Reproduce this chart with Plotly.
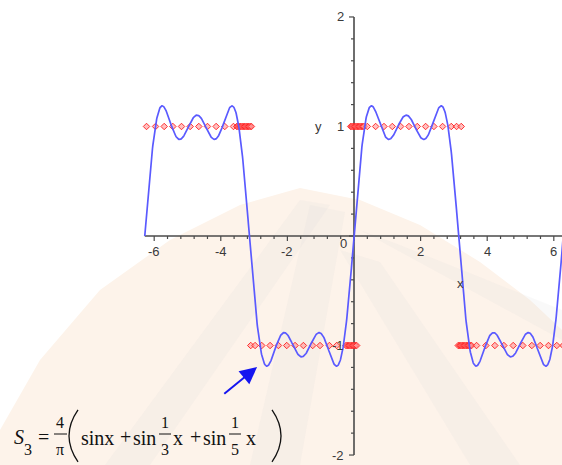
import numpy as np
import plotly.graph_objects as go

W, H = 562, 465

# S3: partial Fourier sum of the square wave
harmonics = [1, 3, 5]
weights = [1, 1 / 3, 1 / 5]
scale = 4 / np.pi

# square wave drawn as sampled points, at level +1 and level -1
upper_x = [-6.23, -5.96, -5.70, -5.44, -5.18, -4.92, -4.66, -4.40, -4.14, -3.88, -3.62,
           -3.52, -3.48, -3.44, -3.40, -3.36, -3.32, -3.28, -3.24, -3.20, -3.16, -3.12, -3.08,
           -0.10, -0.06, -0.02, 0.02, 0.06, 0.10, 0.14, 0.18, 0.22, 0.26, 0.30,
           0.40, 0.65, 0.90, 1.15, 1.40, 1.65, 1.90, 2.15, 2.40, 2.66, 2.92, 3.08, 3.22]
lower_x = [-3.10, -2.97, -2.77, -2.52, -2.27, -2.02, -1.77, -1.52, -1.24, -1.02, -0.74, -0.52,
           -0.24, -0.20, -0.16, -0.12, -0.08, -0.04, 0.00, 0.04, 0.08,
           3.13, 3.17, 3.21, 3.25, 3.29, 3.33, 3.37, 3.41, 3.45, 3.49, 3.53,
           3.68, 3.96, 4.23, 4.50, 4.78, 5.07, 5.34, 5.59, 5.84, 6.09, 6.28]
upper_level = 1
lower_level = -1

# axis tick labels
x_tick_vals = [-6, -4, -2, 2, 4, 6]
x_tick_text = ["-6", "-4", "-2", "2", "4", "6"]
y_tick_vals = [2, 1, -1, -2]
y_tick_text = ["2", "1", "-1", "-2"]

x_lo, x_hi = -2 * np.pi, 2 * np.pi
y_lo, y_hi = -2, 2

# visible window (origin sits at pixel 354, 236)
x_range = [-10.63, 6.246]
y_range = [-2.091, 2.155]
px_per_x = W / (x_range[1] - x_range[0])
px_per_y = H / (y_range[1] - y_range[0])

xs = np.linspace(x_lo, x_hi, 1200)
ys = scale * sum(w * np.sin(n * xs) for n, w in zip(harmonics, weights))

AXIS = "#4a4a4a"
fig = go.Figure()


def paper(px, py):
    return px / W, 1 - py / H


def path_from_pixels(pts, close=True):
    s = ""
    for i, (px, py) in enumerate(pts):
        xx, yy = paper(px, py)
        s += ("M" if i == 0 else "L") + f"{xx:.4f},{yy:.4f} "
    return s + ("Z" if close else "")


# faint watermark in the background
dome = [(300, 188), (360, 200), (420, 225), (480, 262), (530, 300), (562, 330), (562, 465),
        (0, 465), (0, 430), (40, 360), (100, 290), (170, 240), (240, 205)]
fig.add_shape(type="path", xref="paper", yref="paper", path=path_from_pixels(dome),
              fillcolor="#fdf3ea", line=dict(width=0), layer="below")
bands = [
    [(300, 200), (330, 205), (150, 465), (105, 465)],
    [(310, 205), (345, 212), (300, 465), (250, 465)],
    [(360, 230), (400, 245), (562, 310), (562, 340)],
    [(340, 250), (380, 262), (520, 465), (470, 465)],
]
for b in bands:
    fig.add_shape(type="path", xref="paper", yref="paper", path=path_from_pixels(b),
                  fillcolor="rgba(215,215,215,0.16)", line=dict(width=0), layer="below")

# axes lines
fig.add_trace(go.Scatter(x=[x_lo, x_range[1]], y=[0, 0], mode="lines",
                         line=dict(color=AXIS, width=1.6), hoverinfo="skip"))
fig.add_trace(go.Scatter(x=[0, 0], y=[y_lo, y_hi], mode="lines",
                         line=dict(color=AXIS, width=1.6), hoverinfo="skip"))

# tick marks
tx, ty = [], []
for i in range(-15, 16):
    v = i * 0.4
    ln = 5 if i % 5 == 0 else 3
    tx += [v, v, None]
    ty += [0, -ln / px_per_y, None]
for i in range(-10, 11):
    v = i * 0.2
    ln = 5 if i % 5 == 0 else 3
    tx += [0, -ln / px_per_x, None]
    ty += [v, v, None]
fig.add_trace(go.Scatter(x=tx, y=ty, mode="lines", line=dict(color=AXIS, width=1.2),
                         hoverinfo="skip"))

# square wave samples
marker = dict(symbol="diamond", size=5, color="rgba(255,150,150,0.6)",
              line=dict(color="rgba(255,20,20,0.85)", width=1))
fig.add_trace(go.Scatter(x=upper_x, y=[upper_level] * len(upper_x), mode="markers",
                         marker=marker, hoverinfo="skip"))
fig.add_trace(go.Scatter(x=lower_x, y=[lower_level] * len(lower_x), mode="markers",
                         marker=marker, hoverinfo="skip"))

# Fourier partial sum
fig.add_trace(go.Scatter(x=xs, y=ys, mode="lines", line=dict(color="#5a5aff", width=1.7),
                         hoverinfo="skip"))

annotations = []
tick_font = dict(family="Liberation Sans, Arial, sans-serif", size=13, color="#3a3a3a")
for v, t in zip(x_tick_vals, x_tick_text):
    annotations.append(dict(x=v, y=-15 / px_per_y, text=t, showarrow=False,
                            font=tick_font, xanchor="center", yanchor="middle"))
annotations.append(dict(x=-11 / px_per_x, y=-7 / px_per_y, text="0", showarrow=False,
                        font=tick_font, xanchor="center", yanchor="middle"))
for v, t in zip(y_tick_vals, y_tick_text):
    annotations.append(dict(x=-8 / px_per_x, y=v, text=t, showarrow=False,
                            font=tick_font, xanchor="right", yanchor="middle"))
annotations.append(dict(x=-36 / px_per_x, y=1, text="y", showarrow=False,
                        font=tick_font, xanchor="center", yanchor="middle"))
annotations.append(dict(x=3.2, y=-47 / px_per_y, text="x", showarrow=False,
                        font=tick_font, xanchor="center", yanchor="middle"))

# arrow pointing at the curve
annotations.append(dict(x=-2.91, y=-1.196, ax=-3.94, ay=-1.452, axref="x", ayref="y",
                        showarrow=True, arrowhead=2, arrowsize=1.7, arrowwidth=2,
                        arrowcolor="#1515f0", text=""))

# formula  S3 = 4/pi ( sinx + sin 1/3 x + sin 1/5 x )
serif = "Liberation Serif, Times New Roman, serif"


def txt(s, px, py, size=20, italic=False, family=serif):
    xx, yy = paper(px, py)
    body = f"<i>{s}</i>" if italic else s
    annotations.append(dict(x=xx, y=yy, xref="paper", yref="paper", text=body,
                            showarrow=False, xanchor="center", yanchor="middle",
                            font=dict(family=family, size=size, color="#111111")))


txt("S", 19, 437, size=20, italic=True)
txt("3", 28, 449, size=16)
txt("=", 43, 437)
txt("4", 60, 422, size=16)
txt("π", 60, 449, size=16)
txt("sinx", 97, 438)
txt("+", 125, 437)
txt("sin", 144, 438)
txt("1", 165, 422, size=16)
txt("3", 165, 449, size=16)
txt("x", 178, 438)
txt("+", 195, 437)
txt("sin", 214, 438)
txt("1", 235, 422, size=16)
txt("5", 235, 449, size=16)
txt("x", 251, 438)

# fraction bars
for a, b in ((54, 67), (159, 171), (229, 241)):
    x0, y0 = paper(a, 434)
    x1, _ = paper(b, 434)
    fig.add_shape(type="line", xref="paper", yref="paper", x0=x0, x1=x1, y0=y0, y1=y0,
                  line=dict(color="#111111", width=1))


# large thin parentheses
def paren(px_top, px_mid, py_top, py_bot):
    xt, yt = paper(px_top, py_top)
    xm, ym = paper(px_mid, (py_top + py_bot) / 2)
    xb, yb = paper(px_top, py_bot)
    return f"M{xt:.4f},{yt:.4f} Q{xm:.4f},{ym:.4f} {xb:.4f},{yb:.4f}"


fig.add_shape(type="path", xref="paper", yref="paper", path=paren(78, 60, 410, 462),
              line=dict(color="#111111", width=1.3))
fig.add_shape(type="path", xref="paper", yref="paper", path=paren(272, 290, 410, 462),
              line=dict(color="#111111", width=1.3))

fig.update_layout(
    width=W, height=H, margin=dict(l=0, r=0, t=0, b=0),
    paper_bgcolor="white", plot_bgcolor="rgba(0,0,0,0)",
    showlegend=False, annotations=annotations,
    xaxis=dict(range=x_range, visible=False, fixedrange=True),
    yaxis=dict(range=y_range, visible=False, fixedrange=True),
)

fig.write_html("out.html")
